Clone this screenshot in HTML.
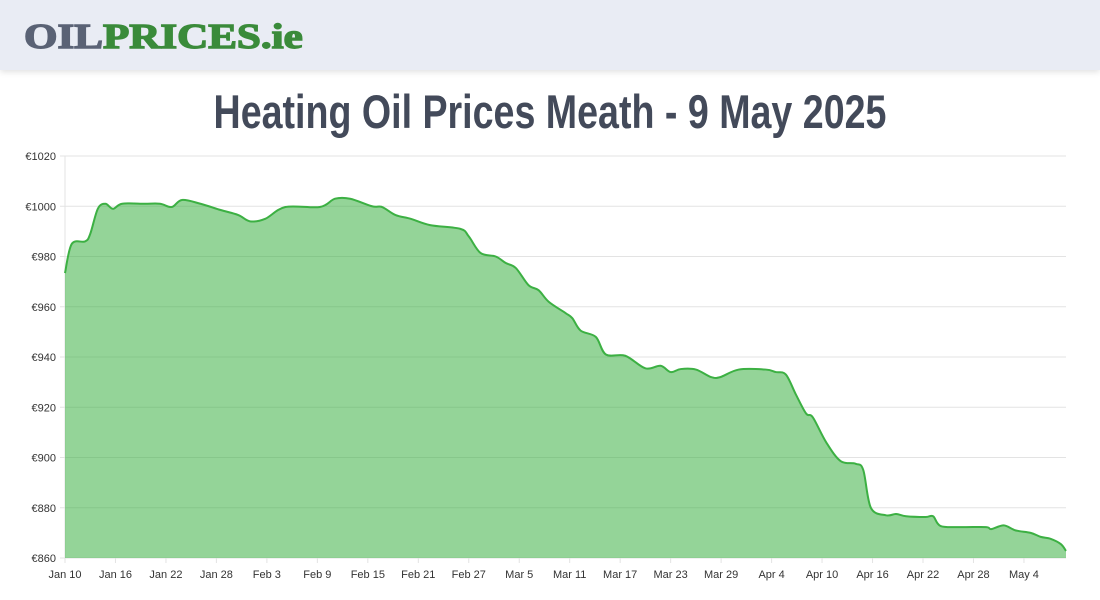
<!DOCTYPE html>
<html><head><meta charset="utf-8"><style>
body{margin:0;width:1100px;height:600px;background:#fff;overflow:hidden;font-family:"Liberation Sans",sans-serif}
#hdr{position:absolute;left:0;top:0;width:1100px;height:70px;background:#e9ecf4;box-shadow:0 2px 6px rgba(0,0,0,0.12)}
#logo{position:absolute;left:24px;top:17px;font-family:"Liberation Serif",serif;font-weight:bold;font-size:35px;letter-spacing:0px;transform:scaleX(1.23);transform-origin:left;-webkit-text-stroke:1.4px currentColor}
#title{position:absolute;left:0;top:84px;width:1100px;text-align:center;font-family:"Liberation Sans Narrow","Liberation Sans",sans-serif;font-weight:bold;font-size:47px;color:#434a5a;transform:scaleX(0.8);transform-origin:550px 0}
svg{position:absolute;left:0;top:0}
</style></head><body>
<div id="hdr">
<div id="logo"><span style="color:#5a6275">OIL</span><span style="color:#3a8b3a">PRICES.ie</span></div>
</div>
<div id="title">Heating Oil Prices Meath - 9 May 2025</div>
<svg id="chart" width="1100" height="600"></svg>
<script>
const days=[0,0.8,2.4,3,3.9,4.8,5.7,6.8,9.5,11.3,12.7,13.9,16.1,18.5,20.6,22,23.8,26.2,30.3,32.1,33.9,36.5,37.7,39.3,41.1,43.4,47,48,49.4,51.2,52.4,53.6,55.1,56.3,57.5,59.5,60.3,61.3,63.1,64.3,66.6,69,70.8,72,73.2,75,76.8,77.9,80.1,83.3,84.5,85.7,86.9,88.1,88.9,90.5,92.2,94,94.9,95.8,97.6,98.8,100,102.3,103.2,104.1,106.5,109.5,110.1,111.6,113,114.8,116,117.2,118.4,119];
const prices=[973.4,985,986,989,999,1001,999,1001,1001,1001,999.7,1002.5,1001,998.5,996.5,994,995,999.7,999.7,1003,1003,1000,999.7,996.5,995,992.5,991,988,981.4,980,977.4,975.4,968.6,966.6,962,957.5,955.5,950.5,948,941,940.5,935.5,936.5,934,935.2,935,932,932,935,935,934,933,925,917.5,916,906,898.6,897.5,895,880,877,877.5,876.6,876.3,876.6,872.7,872.3,872.3,871.5,873,871,870,868.4,867.6,865.5,862.8];
const yTicks=[860,880,900,920,940,960,980,1000,1020];
const xLabels=["Jan 10","Jan 16","Jan 22","Jan 28","Feb 3","Feb 9","Feb 15","Feb 21","Feb 27","Mar 5","Mar 11","Mar 17","Mar 23","Mar 29","Apr 4","Apr 10","Apr 16","Apr 22","Apr 28","May 4"];
const X0=65,X1=1066,Y0=558,Y1=156,DMAX=119;
const xs=d=>X0+d/DMAX*(X1-X0);
const ys=v=>Y0-(v-860)/160*(Y0-Y1);
const svg=document.getElementById('chart');const NS='http://www.w3.org/2000/svg';
function mk(t,a){const e=document.createElementNS(NS,t);for(const k in a)e.setAttribute(k,a[k]);svg.appendChild(e);return e;}
yTicks.forEach(v=>{
 const l=mk('line',{x1:X0-5,x2:X1,y1:ys(v),y2:ys(v),stroke:'#e3e3e3'});
 
 
 const t=mk('text',{x:56,y:ys(v)+4,'text-anchor':'end','font-size':'11',fill:'#333'});t.textContent='€'+v;
 
 
});
xLabels.forEach((s,i)=>{
 const x=xs(i*6);
 const l=mk('line',{x1:x,x2:x,y1:Y0,y2:Y0+5,stroke:'#e3e3e3'});
 
 
 const t=mk('text',{x:x,y:Y0+20,'text-anchor':'middle','font-size':'11',fill:'#333'});t.textContent=s;
 
 
});
const ax=mk('line',{x1:X0,x2:X0,y1:Y1,y2:Y0,stroke:'#e3e3e3'});


const P=days.map((d,i)=>[xs(d),ys(prices[i])]);
let d='M'+P[0][0]+','+P[0][1];
for(let i=0;i<P.length-1;i++){const p0=P[Math.max(0,i-1)],p1=P[i],p2=P[i+1],p3=P[Math.min(P.length-1,i+2)];
 const c1=[p1[0]+(p2[0]-p0[0])/6,p1[1]+(p2[1]-p0[1])/6],c2=[p2[0]-(p3[0]-p1[0])/6,p2[1]-(p3[1]-p1[1])/6];
 d+=` C${c1[0]},${c1[1]} ${c2[0]},${c2[1]} ${p2[0]},${p2[1]}`;}
const area=mk('path',{d:d+` L${P[P.length-1][0]},${Y0} L${P[0][0]},${Y0} Z`,fill:'rgba(60,176,67,0.55)',stroke:'none'});


const line=mk('path',{d:d,fill:'none',stroke:'#3cb043','stroke-width':2});


</script>
</body></html>
